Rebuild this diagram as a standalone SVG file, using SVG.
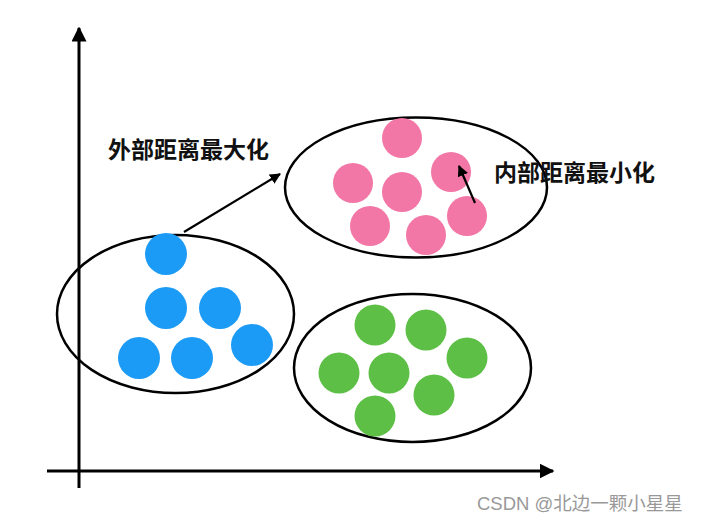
<svg xmlns="http://www.w3.org/2000/svg" width="703" height="524" viewBox="0 0 703 524">
<defs>
<marker id="ah" viewBox="0 0 10 10" refX="9" refY="5" markerWidth="5" markerHeight="5" orient="auto" markerUnits="strokeWidth">
<path d="M0,0 L10,5 L0,10 z" fill="#000"/>
</marker>
<style>
.ell{fill:none;stroke:#000;stroke-width:2.5}
.ax{stroke:#000;stroke-width:3;fill:none}
.ln{stroke:#000;stroke-width:2.2;fill:none}
.pk{fill:#F277A6}
.bl{fill:#1C9BF6}
.gr{fill:#5DBF45}
.lbl{font-family:"Noto Sans CJK SC","Noto Sans",sans-serif;font-size:23px;font-weight:bold;fill:#111}
.wm{font-family:"Liberation Sans","Noto Sans CJK SC",sans-serif;font-size:18.5px;fill:#999}
</style>
</defs>
<rect width="703" height="524" fill="#fff"/>
<g id="cluster-pink">
<ellipse class="ell" cx="416" cy="187.5" rx="131" ry="70"/>
<circle class="pk" cx="402" cy="138" r="20"/>
<circle class="pk" cx="353" cy="183" r="20"/>
<circle class="pk" cx="402" cy="192" r="20"/>
<circle class="pk" cx="451" cy="172" r="20"/>
<circle class="pk" cx="370" cy="226" r="20"/>
<circle class="pk" cx="426" cy="235" r="20"/>
<circle class="pk" cx="467" cy="216" r="20"/>
</g>
<g id="cluster-blue">
<ellipse class="ell" cx="175.5" cy="314" rx="118.5" ry="79"/>
<circle class="bl" cx="166" cy="254" r="21"/>
<circle class="bl" cx="166" cy="308" r="21"/>
<circle class="bl" cx="220" cy="308" r="21"/>
<circle class="bl" cx="252" cy="345" r="21"/>
<circle class="bl" cx="139" cy="358" r="21"/>
<circle class="bl" cx="192" cy="358" r="21"/>
</g>
<g id="cluster-green">
<ellipse class="ell" cx="412.5" cy="368" rx="118.5" ry="74"/>
<circle class="gr" cx="375" cy="325" r="20.5"/>
<circle class="gr" cx="426" cy="330" r="20.5"/>
<circle class="gr" cx="467" cy="358" r="20.5"/>
<circle class="gr" cx="339" cy="373" r="20.5"/>
<circle class="gr" cx="389" cy="373" r="20.5"/>
<circle class="gr" cx="434" cy="395" r="20.5"/>
<circle class="gr" cx="375" cy="416" r="20.5"/>
</g>
<g id="connectors">
<line class="ax" x1="79" y1="488" x2="79" y2="28" marker-end="url(#ah)"/>
<line class="ax" x1="47" y1="471" x2="553" y2="471" marker-end="url(#ah)"/>
<line class="ln" x1="184" y1="232" x2="280" y2="174" marker-end="url(#ah)"/>
<line class="ln" x1="475" y1="203" x2="459" y2="166" marker-end="url(#ah)"/>
</g>
<g id="label-outer">
<text class="lbl" x="108" y="158">外部距离最大化</text>
</g>
<g id="label-inner">
<text class="lbl" x="494" y="181">内部距离最小化</text>
</g>
<text class="wm" x="477" y="510">CSDN @北边一颗小星星</text>
</svg>
